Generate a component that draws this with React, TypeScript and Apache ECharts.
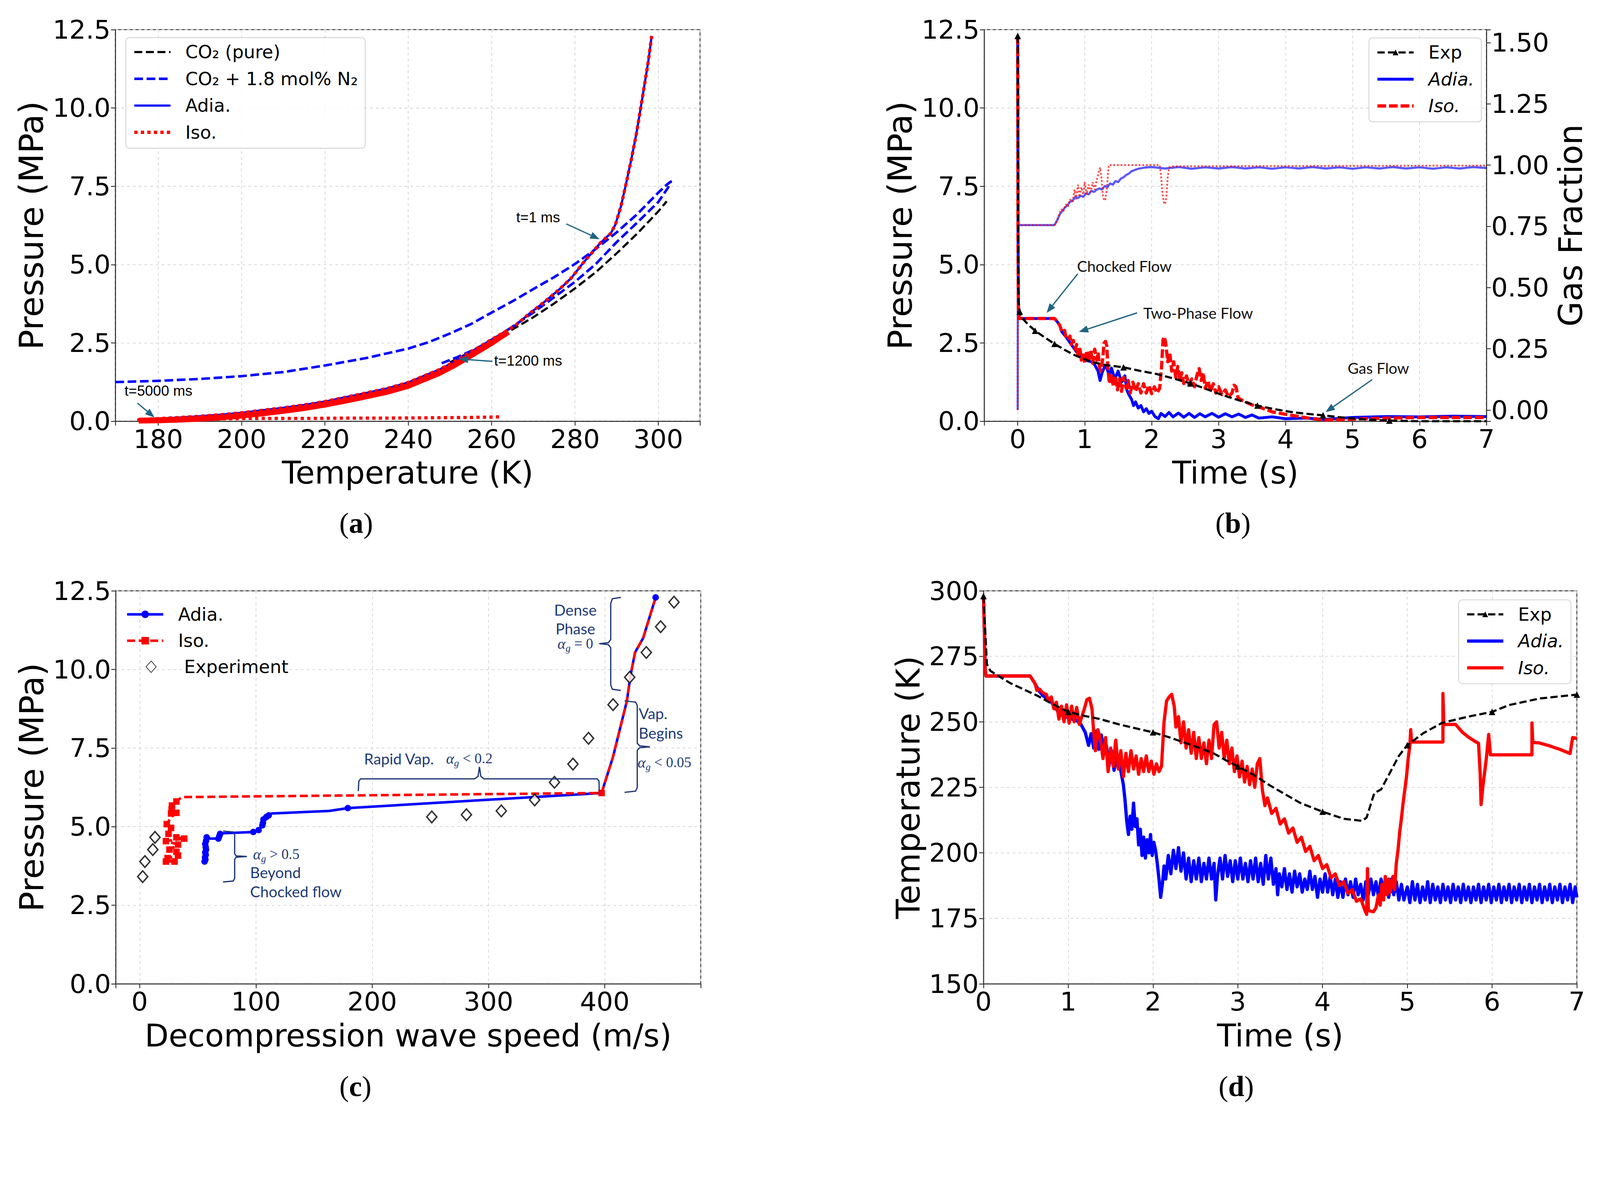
import React, { useEffect, useRef } from 'react';
import * as echarts from 'echarts';

type Pt = [number, number];

const FONT = 'DejaVu Sans';
const BLUE = '#0000ff';
const RED = '#ff0000';
const TEAL = '#1f6482';
const NAVY = '#1f3a78';
const W = 4425;
const H = 3072;

// ---------------- Panel (a): Pressure vs Temperature ----------------
const aPure: Pt[] = [
  [250, 1.88], [255, 2.22], [260, 2.56], [265, 2.93], [270, 3.32], [275, 3.76], [280, 4.24],
  [285, 4.76], [290, 5.36], [295, 6.0], [300, 6.7], [302, 7.02],
];
const aMix: Pt[] = [
  [169.7, 1.25], [180, 1.29], [190, 1.35], [200, 1.44], [210, 1.57], [220, 1.78], [230, 2.02],
  [240, 2.32], [245, 2.53], [250, 2.8], [255, 3.1], [260, 3.47], [265, 3.83], [270, 4.22],
  [275, 4.6], [280, 5.02], [285, 5.5], [290, 6.03], [295, 6.62], [300, 7.3], [302, 7.55],
  [303, 7.65], [302.3, 7.45], [300, 7.0], [295, 6.35], [290, 5.72], [285, 5.02], [280, 4.45],
  [275, 3.96], [270, 3.47], [265, 3.02], [260, 2.58], [256, 2.3], [252, 2.06], [248, 1.85],
];
const aAdia: Pt[] = [
  [298.4, 12.3], [297.6, 11.5], [296.7, 10.76], [295.7, 9.95], [294.7, 9.16], [293.5, 8.35],
  [292.2, 7.55], [291, 6.85], [289.7, 6.28], [288.6, 6.0], [287.6, 5.88], [286, 5.68],
  [284.4, 5.43], [282, 5.06], [279.1, 4.57], [276, 4.18], [272.2, 3.76], [269, 3.43],
  [265.8, 3.07], [263, 2.84], [260, 2.61], [257, 2.37], [253.6, 2.1], [250.5, 1.86],
  [247.3, 1.64], [244, 1.46], [240, 1.24], [235, 1.05], [228.7, 0.87], [224, 0.74],
  [220, 0.63], [215, 0.52], [210, 0.43], [205, 0.35], [200, 0.27], [195, 0.21], [190, 0.16],
  [185, 0.12], [180, 0.085], [175.3, 0.05],
];
const aIsoBand: Pt[] = [
  [264, 2.85], [262, 2.68], [260, 2.5], [257, 2.26], [253.6, 1.99], [250.5, 1.75], [247.3, 1.53],
  [244, 1.35], [240, 1.13], [235, 0.94], [228.7, 0.76], [224, 0.63], [220, 0.53], [215, 0.42],
  [210, 0.33], [205, 0.25], [200, 0.18], [195, 0.12], [190, 0.08], [185, 0.05], [180, 0.03],
  [175.3, 0.02],
];
const aIsoReturn: Pt[] = [
  [178, 0.07], [185, 0.08], [195, 0.08], [205, 0.09], [215, 0.09], [225, 0.1], [235, 0.1],
  [245, 0.11], [255, 0.12], [262, 0.14],
];
const aNotes = [
  { text: 't=1 ms', pos: [265.9, 6.51] as Pt, tail: [277.9, 6.3] as Pt, head: [285.9, 5.81] as Pt },
  { text: 't=1200 ms', pos: [260.6, 1.94] as Pt, tail: [260.2, 1.91] as Pt, head: [252.1, 1.99] as Pt },
  { text: 't=5000 ms', pos: [171.9, 0.98] as Pt, tail: [175.0, 0.58] as Pt, head: [179.1, 0.12] as Pt },
];

// ---------------- Panel (b): Pressure & gas fraction vs time ----------------
const bExp: Pt[] = [
  [0, 12.3], [0.004, 8.0], [0.008, 5.0], [0.015, 3.8], [0.03, 3.5], [0.06, 3.31], [0.15, 3.1],
  [0.26, 2.89], [0.4, 2.68], [0.55, 2.47], [0.7, 2.28], [0.85, 2.11], [1.0, 1.98], [1.1, 1.9],
  [1.3, 1.8], [1.58, 1.72], [1.8, 1.62], [2.07, 1.51], [2.3, 1.38], [2.58, 1.21], [2.8, 1.04],
  [3.04, 0.85], [3.3, 0.67], [3.58, 0.5], [3.8, 0.4], [4.07, 0.3], [4.3, 0.24], [4.56, 0.19],
  [4.8, 0.13], [5.0, 0.09], [5.25, 0.05], [5.55, 0.02], [6.0, 0.0], [7.0, 0.0],
];
const bExpMarkT = [0, 0.03, 0.26, 0.55, 1.58, 2.58, 3.58, 4.56, 5.55];
const bAdia: Pt[] = [
  [0, 12.3], [0.005, 6], [0.01, 3.6], [0.02, 3.28], [0.55, 3.28], [0.6, 3.15], [0.63, 3.05],
  [0.66, 2.85], [0.72, 2.7], [0.8, 2.45], [0.9, 2.15], [1.0, 1.95], [1.1, 1.9], [1.15, 1.8],
  [1.2, 1.6], [1.23, 1.3], [1.26, 1.55], [1.3, 1.75], [1.33, 1.7], [1.37, 1.45], [1.4, 1.7],
  [1.45, 1.35], [1.5, 1.6], [1.55, 1.25], [1.6, 1.45], [1.63, 1.0], [1.66, 0.85], [1.7, 0.7],
  [1.73, 0.5], [1.76, 0.62], [1.8, 0.42], [1.84, 0.5], [1.88, 0.3], [1.92, 0.4], [1.96, 0.25],
  [2.0, 0.32], [2.05, 0.15], [2.1, 0.08], [2.14, 0.25], [2.2, 0.15], [2.26, 0.28], [2.32, 0.14],
  [2.4, 0.26], [2.48, 0.13], [2.56, 0.25], [2.64, 0.12], [2.72, 0.24], [2.8, 0.14], [2.9, 0.25],
  [3.0, 0.13], [3.1, 0.24], [3.2, 0.14], [3.3, 0.23], [3.4, 0.12], [3.5, 0.2], [3.6, 0.1],
  [3.8, 0.14], [4.0, 0.08], [4.3, 0.1], [4.6, 0.06], [5.0, 0.12], [5.5, 0.15], [6.0, 0.14],
  [6.5, 0.16], [7.0, 0.15],
];
const bIso: Pt[] = [
  [0, 12.3], [0.005, 6], [0.01, 3.6], [0.02, 3.28], [0.55, 3.28], [0.6, 3.15], [0.63, 3.05],
  [0.66, 2.85], [0.7, 2.9], [0.72, 2.7], [0.75, 2.6], [0.78, 2.72], [0.8, 2.45], [0.83, 2.58],
  [0.86, 2.3], [0.88, 2.45], [0.9, 2.1], [0.93, 2.3], [0.95, 1.95], [0.98, 2.2], [1.0, 1.85],
  [1.03, 2.25], [1.06, 1.9], [1.09, 2.28], [1.12, 1.85], [1.15, 2.3], [1.18, 1.95], [1.2, 2.2],
  [1.22, 1.75], [1.24, 1.6], [1.27, 2.0], [1.29, 2.5], [1.31, 2.55], [1.33, 2.4], [1.35, 1.6],
  [1.37, 1.2], [1.4, 1.5], [1.43, 1.1], [1.46, 1.45], [1.49, 1.0], [1.52, 1.35], [1.55, 0.95],
  [1.58, 1.4], [1.62, 1.05], [1.65, 1.3], [1.68, 0.9], [1.72, 1.25], [1.76, 0.95], [1.8, 1.2],
  [1.84, 0.9], [1.88, 1.2], [1.92, 0.9], [1.96, 1.15], [2.0, 0.88], [2.04, 1.1], [2.08, 0.9],
  [2.12, 1.05], [2.15, 1.8], [2.17, 2.6], [2.19, 2.7], [2.21, 2.5], [2.24, 1.9], [2.27, 2.2],
  [2.3, 1.6], [2.33, 1.9], [2.36, 1.4], [2.39, 1.75], [2.42, 1.3], [2.45, 1.55], [2.48, 1.2],
  [2.52, 1.45], [2.56, 1.15], [2.6, 1.35], [2.64, 1.1], [2.68, 1.5], [2.71, 1.68], [2.74, 1.3],
  [2.77, 1.55], [2.8, 1.05], [2.84, 1.3], [2.88, 0.95], [2.92, 1.2], [2.96, 0.9], [3.0, 1.1],
  [3.05, 0.85], [3.1, 1.0], [3.15, 0.78], [3.2, 0.9], [3.23, 1.15], [3.26, 1.1], [3.29, 0.75],
  [3.34, 0.68], [3.4, 0.62], [3.5, 0.52], [3.6, 0.46], [3.7, 0.38], [3.8, 0.3], [3.9, 0.26],
  [4.0, 0.22], [4.2, 0.15], [4.4, 0.08], [4.6, 0.04], [4.8, 0.05], [5.0, 0.07], [5.5, 0.1],
  [6.0, 0.12], [7.0, 0.12],
];
const bAdiaGas: Pt[] = [
  [0, 0], [0.003, 0.755], [0.55, 0.755], [0.6, 0.78], [0.63, 0.8], [0.66, 0.81], [0.7, 0.825],
  [0.74, 0.835], [0.78, 0.85], [0.82, 0.855], [0.86, 0.87], [0.9, 0.865], [0.94, 0.875],
  [0.98, 0.87], [1.02, 0.885], [1.06, 0.88], [1.1, 0.895], [1.14, 0.89], [1.18, 0.9],
  [1.22, 0.905], [1.26, 0.9], [1.3, 0.915], [1.34, 0.91], [1.38, 0.925], [1.42, 0.92],
  [1.46, 0.935], [1.5, 0.93], [1.54, 0.945], [1.58, 0.95], [1.62, 0.96], [1.66, 0.965],
  [1.7, 0.975], [1.75, 0.98], [1.8, 0.985], [1.9, 0.99], [2.0, 0.992], [2.2, 0.986],
  [2.4, 0.992], [2.6, 0.985], [2.8, 0.991], [3.0, 0.986], [3.2, 0.992], [3.4, 0.986],
  [3.6, 0.991], [3.8, 0.985], [4.0, 0.991], [4.2, 0.986], [4.4, 0.992], [4.6, 0.986],
  [4.8, 0.991], [5.0, 0.985], [5.2, 0.991], [5.4, 0.986], [5.6, 0.992], [5.8, 0.986],
  [6.0, 0.991], [6.2, 0.985], [6.4, 0.991], [6.6, 0.986], [6.8, 0.992], [7.0, 0.988],
];
const bIsoGas: Pt[] = [
  [0, 0], [0.003, 0.755], [0.55, 0.755], [0.58, 0.77], [0.62, 0.8], [0.65, 0.82], [0.68, 0.81],
  [0.72, 0.84], [0.75, 0.83], [0.78, 0.86], [0.82, 0.85], [0.85, 0.9], [0.87, 0.86], [0.9, 0.92],
  [0.92, 0.87], [0.95, 0.91], [0.98, 0.88], [1.0, 0.93], [1.03, 0.88], [1.06, 0.92],
  [1.09, 0.89], [1.12, 0.93], [1.15, 0.9], [1.18, 0.94], [1.21, 0.97], [1.23, 0.99],
  [1.25, 0.95], [1.27, 0.88], [1.29, 0.855], [1.31, 0.86], [1.33, 0.9], [1.35, 0.97],
  [1.36, 1.0], [2.12, 1.0], [2.14, 0.96], [2.16, 0.89], [2.18, 0.85], [2.2, 0.84], [2.22, 0.87],
  [2.24, 0.95], [2.26, 0.99], [2.3, 0.995], [7.0, 0.998],
];
const bNotes = [
  { text: 'Chocked Flow', pos: [0.886, 4.96] as Pt, tail: [0.897, 4.71] as Pt, head: [0.432, 3.46] as Pt },
  { text: 'Two-Phase Flow', pos: [1.875, 3.46] as Pt, tail: [1.783, 3.46] as Pt, head: [0.913, 2.85] as Pt },
  { text: 'Gas Flow', pos: [4.927, 1.7] as Pt, tail: [5.294, 1.33] as Pt, head: [4.597, 0.29] as Pt },
];

// ---------------- Panel (c): Pressure vs decompression wave speed ----------------
const cAdia: Pt[] = [
  [443.7, 12.29], [433, 11.0], [426, 10.54], [422, 9.78], [419, 9.0], [407, 7.21], [397.2, 6.07],
  [179, 5.59], [163, 5.5], [113.5, 5.42], [111, 5.36], [109, 5.31], [106.5, 5.23], [106, 5.12],
  [105.5, 5.04], [102.3, 4.89], [97.7, 4.83], [72.2, 4.79], [69.2, 4.77], [68.5, 4.7],
  [67.7, 4.62], [58.6, 4.62], [57.6, 4.66], [57.1, 4.55], [56.4, 4.45], [56.8, 4.35],
  [57.1, 4.27], [56.4, 4.18], [56.8, 4.1], [56.2, 4.02], [56.5, 3.95], [55.8, 3.89],
];
const cAdiaMarks = [0, 7, 10, 11, 12, 13, 14, 15, 16, 18, 19, 20, 22, 23, 24, 25, 26, 27, 28, 29, 30, 31];
const cIso: Pt[] = [
  [443.7, 12.29], [433, 11.0], [426, 10.54], [422, 9.78], [419, 9.0], [407, 7.21], [397.2, 6.07],
  [36.1, 5.94], [31.6, 5.8], [27.8, 5.67], [27.5, 5.55], [27, 5.42], [31.6, 5.44], [27, 5.3],
  [23.3, 5.08], [27, 4.96], [24.8, 4.77], [31.6, 4.66], [38.3, 4.62], [22.6, 4.54], [33, 4.43],
  [25.6, 4.27], [31.6, 4.2], [33, 4.08], [24, 4.0], [30, 3.89], [22.6, 3.89],
];
const cIsoMarks = [6, 8, 9, 10, 11, 12, 14, 15, 16, 17, 18, 19, 20, 21, 22, 23, 24, 25, 26];
const cExp: Pt[] = [
  [2.6, 3.41], [4.5, 3.89], [11.3, 4.27], [13.2, 4.66], [251.2, 5.31], [281, 5.38], [311, 5.5],
  [339.7, 5.85], [356.7, 6.41], [372.6, 6.99], [386, 7.81], [407.1, 8.88], [421.4, 9.75],
  [435.7, 10.54], [448, 11.36], [459.5, 12.14],
];
const cBraces: Pt[][] = [
  [[413.8, 12.29], [406.5, 12.25], [405.1, 12.1], [405.1, 10.95], [403, 10.85], [395.2, 10.82],
   [403, 10.79], [405.1, 10.69], [405.1, 9.5], [406.5, 9.37], [413.8, 9.33]],
  [[417, 9.0], [426.5, 8.96], [427.9, 8.85], [427.9, 7.65], [430, 7.57], [438.8, 7.54],
   [430, 7.51], [427.9, 7.43], [427.9, 6.24], [426.5, 6.13], [417, 6.09]],
  [[188, 6.13], [188.5, 6.45], [190, 6.52], [288, 6.52], [291, 6.6], [292.2, 6.9], [293.4, 6.6],
   [296, 6.52], [393.5, 6.52], [395, 6.45], [395.2, 6.13]],
  [[71.7, 4.86], [80.5, 4.83], [81.7, 4.74], [81.7, 4.14], [83, 4.07], [92.2, 4.05], [83, 4.03],
   [81.7, 3.96], [81.7, 3.36], [80.5, 3.27], [71.7, 3.24]],
];
const cNotes = [
  { text: '{t|Dense}', pos: [374.7, 11.9] as Pt, align: 'center' },
  { text: '{t|Phase}', pos: [374.7, 11.3] as Pt, align: 'center' },
  { text: '{a|α}{s|g}{m| = 0}', pos: [374.7, 10.82] as Pt, align: 'center' },
  { text: '{t|Vap.}', pos: [429.1, 8.61] as Pt, align: 'left' },
  { text: '{t|Begins}', pos: [429.1, 7.99] as Pt, align: 'left' },
  { text: '{a|α}{s|g}{m| < 0.05}', pos: [428.2, 7.05] as Pt, align: 'left' },
  { text: '{t|Rapid Vap.   }{a|α}{s|g}{m| < 0.2}', pos: [193, 7.17] as Pt, align: 'left' },
  { text: '{a|α}{s|g}{m| > 0.5}', pos: [97.5, 4.13] as Pt, align: 'left' },
  { text: '{t|Beyond}', pos: [95, 3.55] as Pt, align: 'left' },
  { text: '{t|Chocked flow}', pos: [95, 2.94] as Pt, align: 'left' },
];

// ---------------- Panel (d): Temperature vs time ----------------
const dExp: Pt[] = [
  [0, 298], [0.02, 285], [0.04, 272], [0.08, 269.5], [0.15, 268], [0.32, 264.7], [0.5, 262],
  [0.64, 259.9], [0.8, 257], [1.0, 253.8], [1.2, 252.2], [1.37, 251.1], [1.6, 249], [1.8, 247.5],
  [2.0, 246], [2.2, 244], [2.35, 242.3], [2.55, 240], [2.72, 237.9], [2.85, 235.5], [3.0, 233],
  [3.2, 229.5], [3.38, 225.7], [3.55, 222.5], [3.74, 219], [4.0, 215.7], [4.25, 213],
  [4.47, 212.2], [4.52, 213.5], [4.61, 222.8], [4.69, 224.2], [4.81, 231.5], [4.9, 237],
  [5.0, 241.1], [5.19, 245.7], [5.41, 249.6], [5.72, 252], [6.0, 253.8], [6.2, 256.4],
  [6.56, 258.9], [7.0, 260.4],
];
const dExpMarkT = [0, 1, 2, 3, 4, 5, 6, 7];
const dAdia: Pt[] = [
  [0, 298], [0.01, 285], [0.02, 270], [0.03, 267.5], [0.55, 267.5], [0.6, 265], [0.65, 262],
  [0.7, 260], [0.8, 257.5], [0.9, 253], [1.0, 251.5], [1.1, 250.5], [1.15, 249], [1.2, 246],
  [1.24, 241], [1.27, 245.5], [1.3, 240], [1.33, 246.5], [1.36, 239.5], [1.39, 245],
  [1.42, 238.5], [1.45, 241], [1.48, 233], [1.51, 239], [1.54, 231.5], [1.57, 237], [1.6, 235],
  [1.63, 229.5], [1.65, 226], [1.67, 220], [1.69, 212], [1.71, 207], [1.73, 214], [1.75, 209],
  [1.77, 219], [1.79, 210], [1.81, 213], [1.83, 203], [1.85, 209], [1.87, 199], [1.89, 206],
  [1.91, 198], [1.93, 205], [1.95, 200], [1.97, 207], [1.99, 199], [2.01, 204], [2.03, 201],
  [2.05, 196], [2.07, 190], [2.09, 183], [2.11, 188], [2.13, 195], [2.15, 190], [2.18, 199],
  [2.21, 192], [2.24, 201], [2.27, 194], [2.3, 202], [2.33, 193], [2.36, 200], [2.39, 190],
  [2.42, 198], [2.45, 189], [2.48, 197], [2.51, 190], [2.54, 198], [2.57, 189], [2.6, 196],
  [2.63, 190], [2.66, 198], [2.69, 190], [2.72, 196], [2.74, 182], [2.76, 191], [2.79, 198],
  [2.82, 190], [2.85, 199], [2.88, 191], [2.91, 197], [2.94, 189], [2.97, 197], [3.0, 190],
  [3.03, 198], [3.06, 190], [3.09, 196], [3.12, 189], [3.15, 197], [3.18, 190], [3.21, 198],
  [3.24, 189], [3.27, 196], [3.3, 188], [3.33, 199], [3.36, 190], [3.39, 198], [3.42, 188],
  [3.45, 194], [3.47, 184], [3.49, 192], [3.52, 187], [3.55, 194], [3.58, 186], [3.61, 192],
  [3.64, 185], [3.67, 193], [3.7, 187], [3.73, 192], [3.76, 185], [3.79, 190], [3.82, 186],
  [3.85, 193], [3.88, 186], [3.91, 191], [3.94, 183], [3.97, 190], [4.0, 185], [4.03, 192],
  [4.06, 185], [4.09, 191], [4.12, 184], [4.15, 190], [4.18, 183], [4.21, 189], [4.24, 183],
  [4.27, 190], [4.3, 184], [4.33, 189], [4.36, 183], [4.39, 190], [4.42, 184], [4.45, 188],
  [4.48, 182], [4.51, 189], [4.54, 184], [4.57, 190], [4.6, 184], [4.63, 189], [4.66, 183],
  [4.69, 190], [4.72, 185], [4.75, 189], [4.78, 183], [4.81, 190], [4.84, 184], [4.87, 189],
  [4.9, 182], [4.93, 188], [4.96, 182], [5.0, 187], [5.03, 181], [5.06, 189], [5.09, 182],
  [5.12, 188], [5.15, 181], [5.18, 187], [5.21, 182], [5.24, 189], [5.27, 181], [5.3, 188],
  [5.33, 182], [5.36, 187], [5.39, 181], [5.42, 188], [5.45, 182], [5.48, 187], [5.51, 181],
  [5.54, 188], [5.57, 182], [5.6, 187], [5.63, 181], [5.66, 188], [5.69, 182], [5.72, 187],
  [5.75, 181], [5.78, 187], [5.81, 182], [5.84, 188], [5.87, 181], [5.9, 187], [5.93, 182],
  [5.96, 188], [5.99, 181], [6.02, 187], [6.05, 182], [6.08, 188], [6.11, 181], [6.14, 187],
  [6.17, 182], [6.2, 188], [6.23, 181], [6.26, 187], [6.29, 182], [6.32, 188], [6.35, 181],
  [6.38, 187], [6.41, 182], [6.44, 188], [6.47, 181], [6.5, 187], [6.53, 182], [6.56, 188],
  [6.59, 181], [6.62, 187], [6.65, 182], [6.68, 188], [6.71, 181], [6.74, 187], [6.77, 182],
  [6.8, 188], [6.83, 181], [6.86, 187], [6.89, 182], [6.92, 188], [6.95, 181], [6.98, 187],
  [7.0, 183],
];
const dIso: Pt[] = [
  [0, 298], [0.01, 285], [0.02, 270], [0.03, 267.5], [0.55, 267.5], [0.58, 266], [0.61, 264.5],
  [0.63, 262], [0.66, 262.5], [0.7, 261], [0.74, 260.5], [0.77, 258], [0.8, 259.5], [0.83, 255],
  [0.86, 257.5], [0.89, 251], [0.92, 256], [0.95, 250], [0.98, 256.5], [1.01, 249.5],
  [1.04, 256], [1.07, 250], [1.1, 255.5], [1.13, 249], [1.16, 252], [1.19, 255], [1.22, 258.5],
  [1.25, 259], [1.28, 255], [1.3, 246], [1.32, 239], [1.35, 247], [1.38, 243], [1.41, 236],
  [1.44, 244], [1.47, 231], [1.5, 240], [1.53, 233], [1.56, 243], [1.59, 232], [1.62, 239],
  [1.65, 229], [1.68, 238], [1.71, 231], [1.74, 239], [1.77, 232], [1.8, 237], [1.83, 230],
  [1.86, 236], [1.89, 231], [1.92, 237], [1.95, 231], [1.98, 235], [2.01, 230], [2.04, 234],
  [2.07, 231], [2.1, 233], [2.13, 250], [2.16, 258], [2.19, 259.5], [2.22, 260.5], [2.25, 256],
  [2.27, 248], [2.3, 252], [2.33, 242], [2.36, 250], [2.39, 240], [2.42, 247], [2.45, 238],
  [2.48, 246], [2.51, 236], [2.54, 244], [2.57, 236], [2.6, 242], [2.63, 234], [2.66, 243],
  [2.69, 236], [2.72, 249], [2.75, 250], [2.78, 240], [2.81, 246], [2.84, 236], [2.87, 243],
  [2.9, 234], [2.93, 240], [2.96, 231], [2.99, 237], [3.02, 229], [3.05, 235], [3.08, 227],
  [3.11, 233], [3.14, 226], [3.17, 232], [3.2, 225], [3.23, 234], [3.26, 236], [3.29, 224],
  [3.32, 218], [3.35, 221], [3.4, 215], [3.45, 217], [3.5, 211], [3.55, 213], [3.6, 207.5],
  [3.65, 209.5], [3.7, 204], [3.75, 206], [3.8, 200.5], [3.85, 202.5], [3.9, 197], [3.95, 199],
  [4.0, 194], [4.05, 195.5], [4.1, 190.5], [4.15, 192], [4.2, 187.5], [4.25, 189], [4.3, 184.5],
  [4.35, 186], [4.4, 181.5], [4.45, 182.5], [4.5, 178], [4.52, 176.5], [4.53, 194], [4.54, 178],
  [4.6, 177.5], [4.63, 179], [4.66, 184], [4.68, 180], [4.7, 188], [4.72, 182], [4.74, 191],
  [4.76, 184], [4.78, 190], [4.8, 185], [4.83, 191], [4.85, 186], [4.87, 196], [4.89, 201],
  [4.91, 208], [4.93, 213], [4.95, 219], [4.97, 224], [4.99, 229], [5.01, 236], [5.03, 241],
  [5.04, 247], [5.05, 242.3], [5.42, 242.3], [5.42, 260.8], [5.43, 249], [5.57, 249],
  [5.65, 246], [5.72, 244.2], [5.8, 242.5], [5.84, 241.8], [5.86, 230], [5.87, 218.4],
  [5.89, 225], [5.93, 235.4], [5.96, 245.2], [5.98, 237.4], [6.47, 237.4], [6.47, 249.6],
  [6.48, 242.1], [6.55, 242], [6.68, 240.8], [6.8, 239.5], [6.92, 237.9], [6.95, 244], [7.0, 243.7],
];

// ---------------- helpers ----------------
const isMult = (v: number, s: number) => Math.abs(v / s - Math.round(v / s)) < 1e-6;

function makeAxis(o: {
  gridIndex: number; min: number; max: number; step: number; name: string; gap: number;
  digits: number; position?: string; grid?: boolean; nameSize?: number;
}) {
  return {
    type: 'value',
    gridIndex: o.gridIndex,
    position: o.position,
    min: o.min,
    max: o.max,
    minInterval: o.step,
    maxInterval: o.step,
    name: o.name,
    nameLocation: 'middle',
    nameGap: o.gap,
    nameTextStyle: { color: '#000', fontSize: o.nameSize ?? 86, fontFamily: FONT },
    axisLine: { show: true, onZero: false, lineStyle: { color: '#333', width: 2.5 } },
    axisTick: { show: true, inside: false, length: 12, lineStyle: { color: '#333', width: 2.5 } },
    axisLabel: {
      color: '#000', fontSize: 72, fontFamily: FONT, margin: 13,
      formatter: (v: number) => (isMult(v, o.step) ? (Math.abs(v) < 1e-9 ? 0 : v).toFixed(o.digits) : ''),
    },
    splitLine: { show: o.grid !== false, lineStyle: { color: '#d4d4d4', width: 2, type: [8, 8] } },
  };
}

function markByX(points: Pt[], xs: number[], symbol: string) {
  return points.map((p) => ({ value: p, symbol: xs.some((x) => Math.abs(x - p[0]) < 1e-9) ? symbol : 'none' }));
}
function markByIdx(points: Pt[], idx: number[], symbol: string) {
  return points.map((p, i) => ({ value: p, symbol: idx.includes(i) ? symbol : 'none' }));
}

const strip = (n: string) => n.split('|')[0];
const legendText = {
  fontSize: 50, fontFamily: FONT, color: '#000', lineHeight: 60, padding: [0, 0, 0, 36],
  rich: { i: { fontStyle: 'italic', fontSize: 50, fontFamily: FONT, color: '#000', lineHeight: 60 } },
};
const legendCommon = {
  orient: 'vertical', itemWidth: 100, itemHeight: 20, itemGap: 14, selectedMode: false,
  symbolKeepAspect: true, textStyle: legendText, lineStyle: { width: 'inherit' },
};
const boxed = {
  backgroundColor: 'rgba(255,255,255,0.85)', borderColor: '#cccccc', borderWidth: 2, borderRadius: 10,
  padding: [10, 20, 14, 19],
};
const noMark = (name: string) => ({ name, itemStyle: { opacity: 0 } });
const italicFmt = (n: string) => (strip(n) === 'Exp' ? 'Exp' : `{i|${strip(n)}}`);

function lineSeries(name: string, xi: number, yi: number, data: any[], color: string, width: number, type: any, extra: any = {}) {
  return {
    type: 'line', name, xAxisIndex: xi, yAxisIndex: yi, data, symbol: 'none', showSymbol: false,
    smooth: false, clip: true,
    lineStyle: { color, width, type, cap: 'butt', join: 'round' },
    itemStyle: { color },
    emphasis: { disabled: true },
    ...extra,
  };
}

function buildOption() {
  const grids = [
    { left: 319, top: 82, width: 1617, height: 1083 },
    { left: 2722, top: 82, width: 1389, height: 1083 },
    { left: 320, top: 1634, width: 1618, height: 1087 },
    { left: 2720, top: 1634, width: 1641, height: 1087 },
  ].map((g) => ({ ...g, show: true, borderColor: '#333', borderWidth: 2.5, backgroundColor: 'transparent' }));

  const xAxis = [
    makeAxis({ gridIndex: 0, min: 169.7, max: 310, step: 20, name: 'Temperature (K)', gap: 100, digits: 0 }),
    makeAxis({ gridIndex: 1, min: -0.5, max: 7, step: 1, name: 'Time (s)', gap: 100, digits: 0 }),
    makeAxis({ gridIndex: 2, min: -20.6, max: 482.5, step: 100, name: 'Decompression wave speed (m/s)', gap: 100, digits: 0 }),
    makeAxis({ gridIndex: 3, min: 0, max: 7, step: 1, name: 'Time (s)', gap: 100, digits: 0 }),
  ];
  const yAxis = [
    makeAxis({ gridIndex: 0, min: 0, max: 12.5, step: 2.5, name: 'Pressure (MPa)', gap: 186, digits: 1, nameSize: 93 }),
    makeAxis({ gridIndex: 1, min: 0, max: 12.5, step: 2.5, name: 'Pressure (MPa)', gap: 186, digits: 1, nameSize: 93 }),
    makeAxis({ gridIndex: 1, min: -0.046, max: 1.553, step: 0.25, name: 'Gas Fraction', gap: 188, digits: 2, position: 'right', grid: false, nameSize: 90 }),
    makeAxis({ gridIndex: 2, min: 0, max: 12.5, step: 2.5, name: 'Pressure (MPa)', gap: 186, digits: 1, nameSize: 93 }),
    makeAxis({ gridIndex: 3, min: 150, max: 300, step: 25, name: 'Temperature (K)', gap: 163, digits: 0, nameSize: 90 }),
  ];

  const series: any[] = [
    // (a)
    lineSeries('CO₂ (pure)', 0, 0, aPure, '#000', 6, [22, 10]),
    lineSeries('CO₂ + 1.8 mol% N₂', 0, 0, aMix, BLUE, 7, [24, 10]),
    lineSeries('Adia.|a', 0, 0, aAdia, BLUE, 6, 'solid'),
    lineSeries('Iso. band|a', 0, 0, aIsoBand, RED, 16, 'solid'),
    lineSeries('Iso.|a', 0, 0, [...aAdia, ...aIsoReturn], RED, 9, [9, 9]),
    // (b)
    lineSeries('Adia. gas|b', 1, 2, bAdiaGas, BLUE, 6, 'solid', { lineStyle: { color: BLUE, width: 6, opacity: 0.65 } }),
    lineSeries('Iso. gas|b', 1, 2, bIsoGas, RED, 5, [5, 5], { lineStyle: { color: RED, width: 5, type: [5, 5], opacity: 0.7 } }),
    lineSeries('Adia.|b', 1, 1, bAdia, BLUE, 8, 'solid'),
    lineSeries('Iso.|b', 1, 1, bIso, RED, 9, [24, 8]),
    lineSeries('Exp|b', 1, 1, markByX(bExp, bExpMarkT, 'triangle'), '#000', 6, [20, 9], {
      symbol: 'triangle', showSymbol: true, symbolSize: 18,
    }),
    // (c)
    lineSeries('Adia.|c', 2, 3, markByIdx(cAdia, cAdiaMarks, 'circle'), BLUE, 7, 'solid', {
      symbol: 'circle', showSymbol: true, symbolSize: 18,
    }),
    lineSeries('Iso.|c', 2, 3, markByIdx(cIso, cIsoMarks, 'rect'), RED, 7, [22, 10], {
      symbol: 'rect', showSymbol: true, symbolSize: 18,
    }),
    {
      type: 'scatter', name: 'Experiment', xAxisIndex: 2, yAxisIndex: 3, data: cExp, symbol: 'diamond',
      symbolSize: [28, 32], itemStyle: { color: '#fff', borderColor: '#000', borderWidth: 4 },
      emphasis: { disabled: true }, z: 5,
    },
    // (d)
    lineSeries('Adia.|d', 3, 4, dAdia, BLUE, 9, 'solid'),
    lineSeries('Iso.|d', 3, 4, dIso, RED, 9, 'solid'),
    lineSeries('Exp|d', 3, 4, markByX(dExp, dExpMarkT, 'triangle'), '#000', 6, [20, 9], {
      symbol: 'triangle', showSymbol: true, symbolSize: 18,
    }),
  ];

  const legend = [
    {
      ...legendCommon, ...boxed, left: 348, top: 104, formatter: strip,
      data: [noMark('CO₂ (pure)'), noMark('CO₂ + 1.8 mol% N₂'), noMark('Adia.|a'), noMark('Iso.|a')],
    },
    {
      ...legendCommon, ...boxed, left: 3786, top: 105, formatter: italicFmt,
      data: [{ name: 'Exp|b' }, noMark('Adia.|b'), noMark('Iso.|b')],
    },
    {
      ...legendCommon, itemHeight: 26, itemGap: 13, left: 348, top: 1669, padding: 0, formatter: strip,
      data: [{ name: 'Adia.|c' }, { name: 'Iso.|c' }],
    },
    {
      ...legendCommon, itemWidth: 28, itemHeight: 32, left: 403, top: 1814, padding: 0, formatter: strip,
      textStyle: { ...legendText, padding: [0, 0, 0, 72] },
      data: [{ name: 'Experiment' }],
    },
    {
      ...legendCommon, ...boxed, left: 4034, top: 1659, formatter: italicFmt,
      data: [{ name: 'Exp|d' }, noMark('Adia.|d'), noMark('Iso.|d')],
    },
  ];

  return {
    animation: false,
    backgroundColor: '#ffffff',
    textStyle: { fontFamily: FONT },
    grid: grids,
    xAxis,
    yAxis,
    legend,
    series,
  };
}

function arrow(p0: number[], p1: number[], color: string) {
  const dx = p1[0] - p0[0];
  const dy = p1[1] - p0[1];
  const len = Math.hypot(dx, dy) || 1;
  const ux = dx / len;
  const uy = dy / len;
  const hl = 26;
  const hw = 10;
  const bx = p1[0] - ux * hl;
  const by = p1[1] - uy * hl;
  return [
    { type: 'line', z: 100, shape: { x1: p0[0], y1: p0[1], x2: bx, y2: by }, style: { stroke: color, lineWidth: 3.5 } },
    {
      type: 'polygon', z: 100,
      shape: { points: [[p1[0], p1[1]], [bx - uy * hw, by + ux * hw], [bx + uy * hw, by - ux * hw]] },
      style: { fill: color },
    },
  ];
}

function caption(letter: string, cx: number, cy: number) {
  return {
    type: 'text', x: cx, y: cy, z: 100,
    style: {
      text: `{p|(}{b|${letter}}{p|)}`, align: 'center', verticalAlign: 'middle',
      rich: {
        p: { fontFamily: 'Liberation Serif', fontSize: 80, fill: '#000' },
        b: { fontFamily: 'Liberation Serif', fontSize: 80, fontWeight: 'bold', fill: '#000' },
      },
    },
  };
}

const mathRich = {
  t: { fontFamily: 'Lato', fontSize: 42, fill: NAVY },
  a: { fontFamily: 'Liberation Serif', fontStyle: 'italic', fontSize: 42, fill: NAVY },
  s: { fontFamily: 'Liberation Serif', fontStyle: 'italic', fontSize: 28, fill: NAVY, padding: [26, 0, 0, 0] },
  m: { fontFamily: 'Liberation Serif', fontSize: 40, fill: NAVY },
};

export default function App() {
  const ref = useRef<HTMLDivElement>(null);
  const [scale, setScale] = React.useState(1);
  useEffect(() => {
    document.body.style.margin = '0';
    document.body.style.overflow = 'hidden';
    const vw = document.documentElement.clientWidth || window.innerWidth || W;
    const vh = window.innerHeight || H;
    const s = Math.min(1, vw / W, vh / H);
    setScale(s);
  }, []);
  useEffect(() => {
    if (!ref.current) return;
    const chart = echarts.init(ref.current, null, { renderer: 'svg', width: W, height: H });
    chart.setOption(buildOption() as any);

    const px = (xi: number, yi: number, p: Pt) =>
      chart.convertToPixel({ xAxisIndex: xi, yAxisIndex: yi } as any, p) as unknown as number[];

    const graphic: any[] = [];
    aNotes.forEach((n) => {
      const p = px(0, 0, n.pos);
      graphic.push({
        type: 'text', x: p[0], y: p[1], z: 100,
        style: { text: n.text, fontFamily: 'Liberation Sans', fontSize: 40, fill: '#000', align: 'left', verticalAlign: 'middle' },
      });
      graphic.push(...arrow(px(0, 0, n.tail), px(0, 0, n.head), TEAL));
    });
    bNotes.forEach((n) => {
      const p = px(1, 1, n.pos);
      graphic.push({
        type: 'text', x: p[0], y: p[1], z: 100,
        style: { text: n.text, fontFamily: 'Lato', fontSize: 42, fill: '#111', align: 'left', verticalAlign: 'middle' },
      });
      graphic.push(...arrow(px(1, 1, n.tail), px(1, 1, n.head), TEAL));
    });
    cBraces.forEach((b) => {
      graphic.push({
        type: 'polyline', z: 100, shape: { points: b.map((q) => px(2, 3, q)) },
        style: { stroke: NAVY, lineWidth: 3.5, fill: null },
      });
    });
    cNotes.forEach((n) => {
      const p = px(2, 3, n.pos);
      graphic.push({
        type: 'text', x: p[0], y: p[1], z: 100,
        style: { text: n.text, align: n.align, verticalAlign: 'middle', rich: mathRich },
      });
    });
    graphic.push(caption('a', 985, 1447), caption('b', 3410, 1447), caption('c', 983, 3004), caption('d', 3419, 3004));
    chart.setOption({ graphic });

    return () => chart.dispose();
  }, []);
  return (
    <div style={{ width: W * scale, height: H * scale, overflow: 'hidden', background: '#fff' }}>
      <div
        ref={ref}
        style={{ width: W, height: H, background: '#fff', transform: `scale(${scale})`, transformOrigin: '0 0' }}
      />
    </div>
  );
}
